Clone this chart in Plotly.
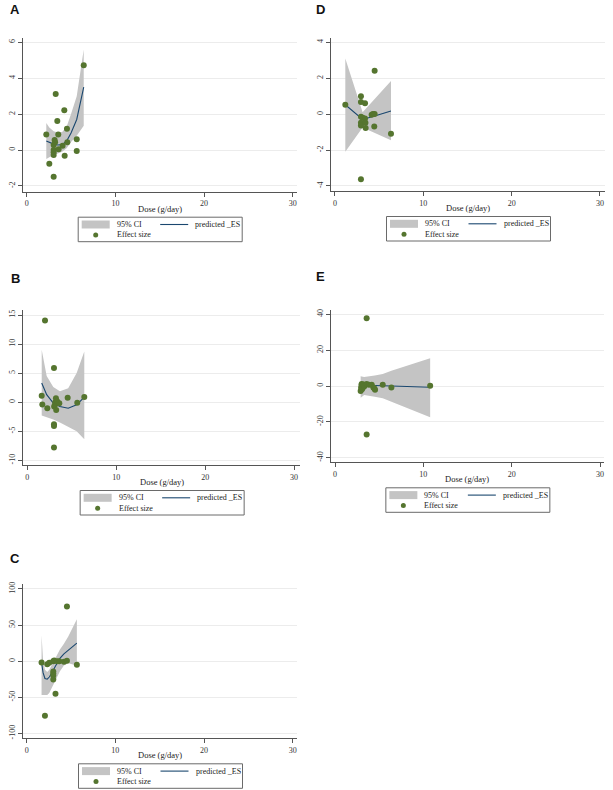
import plotly.graph_objects as go

W, H = 613, 790

# ---------------- data ----------------
x_ticks = [0, 10, 20, 30]

# Panel A
a_dose = [2.21, 2.55, 3.04, 3.04, 3.04, 3.04, 3.04, 3.15, 3.2, 3.27, 3.45, 3.56, 3.6, 4.05, 4.24, 4.28, 4.54, 4.58, 5.64, 5.64, 6.43]
a_es = [0.86, -0.77, -1.49, 0.28, 0.0, -0.13, -0.28, 0.56, 0.43, 3.12, 1.62, 0.86, 0.04, 0.24, 2.22, -0.32, 1.19, 0.43, 0.6, -0.06, 4.72]
a_fit_x = [2.21, 2.55, 3.04, 3.5, 4.0, 4.5, 5.0, 5.64, 6.43]
a_pred = [0.5, 0.42, 0.33, 0.28, 0.3, 0.5, 0.95, 1.7, 3.5]
a_upper = [1.5, 1.25, 1.05, 0.98, 1.0, 1.3, 2.0, 3.0, 5.6]
a_lower = [-0.5, -0.4, -0.28, -0.2, -0.1, 0.1, 0.45, 0.8, 1.35]
a_yticks = [-2, 0, 2, 4, 6]

# Panel B
b_dose = [1.62, 1.69, 1.99, 2.25, 3.0, 3.0, 3.0, 3.0, 3.02, 3.1, 3.15, 3.22, 3.25, 3.37, 3.6, 4.54, 5.62, 6.41]
b_es = [1.09, -0.41, 14.07, -1.04, 5.86, -3.8, -4.09, -7.82, -0.75, -0.47, 0.0, 0.68, -1.33, 0.1, -0.18, 0.74, -0.12, 0.91]
b_fit_x = [1.62, 2.18, 2.92, 3.67, 4.6, 5.55, 6.41]
b_pred = [3.3, 1.3, -0.15, -0.75, -1.05, -0.45, 0.85]
b_upper = [9.0, 4.5, 2.6, 1.9, 2.4, 5.0, 8.7]
b_lower = [-2.3, -2.6, -3.0, -3.5, -4.2, -5.0, -6.4]
b_yticks = [-10, -5, 0, 5, 10, 15]

# Panel C
c_dose = [1.68, 2.06, 2.32, 2.55, 3.0, 3.0, 3.0, 3.0, 3.0, 3.1, 3.25, 3.45, 3.67, 4.2, 4.54, 4.54, 5.66]
c_es = [-1.8, -75.8, -4.2, -2.3, 0.0, -14.3, -17.0, -20.0, -25.4, 1.0, -45.3, 0.0, 0.0, -0.9, 0.5, 75.8, -5.1]
c_fit_x = [1.68, 1.85, 2.06, 2.32, 2.55, 2.82, 3.19, 3.75, 4.2, 4.69, 5.66]
c_pred = [-2, -16, -24, -25, -22, -17, -8, 4, 10, 15, 25]
c_upper = [36, 2, -12, -15, -12, -6, 4, 16, 24, 34, 58]
c_lower = [-47, -47, -47, -47, -44, -38, -28, -14, -6, -3, -6]
c_yticks = [-100, -50, 0, 50, 100]

# Panel D
d_dose = [1.17, 2.94, 2.94, 3.4, 4.49, 2.94, 3.13, 3.4, 2.94, 2.94, 3.45, 3.47, 4.15, 4.3, 4.49, 4.45, 6.34, 2.94]
d_es = [0.52, 1.0, 0.67, 0.61, 2.42, -0.15, -0.2, -0.24, -0.48, -0.63, -0.48, -0.78, -0.04, 0.0, 0.0, -0.69, -1.1, -3.63]
d_fit_x = [1.17, 3.13, 4.49, 6.34]
d_pred = [0.52, -0.3, -0.1, 0.17]
d_upper = [3.1, 0.1, 0.84, 1.85]
d_lower = [-2.1, -0.75, -1.05, -1.45]
d_yticks = [-4, -2, 0, 2, 4]

# Panel E
e_dose = [2.9, 2.95, 3.0, 3.02, 3.05, 3.1, 3.13, 3.2, 3.32, 3.58, 3.58, 3.58, 3.84, 4.15, 4.34, 4.45, 4.53, 5.4, 6.38, 10.77]
e_es = [-2.8, -1.0, 0.5, 1.1, -1.8, 0.3, -1.1, 0.8, -0.2, 1.1, 37.8, -27.0, 0.7, 0.7, -0.8, -1.4, -2.1, 0.7, -0.8, 0.2]
e_fit_x = [2.9, 3.3, 4.5, 5.4, 6.38, 10.77]
e_pred = [0.5, 0.5, 0.3, 0.1, 0.0, -0.7]
e_upper = [5.5, 5.0, 5.8, 6.7, 8.5, 15.5]
e_lower = [-6.5, -5.0, -6.0, -6.9, -8.8, -17.5]
e_yticks = [-40, -20, 0, 20, 40]

panel_labels = ["A", "B", "C", "D", "E"]
x_title = "Dose (g/day)"
legend_labels = ["95% CI", "predicted _ES", "Effect size"]

# ---------------- styling / layout ----------------
GREEN = "#55752f"
NAVY = "#1a476f"
BAND = "#c4c4c4"
AXIS = "#555555"
GRID = "#ececec"
SERIF = "Liberation Serif"
SANS = "Liberation Sans"

panels = [
    dict(lab="A", dose=a_dose, es=a_es, fx=a_fit_x, pred=a_pred, hi=a_upper, lo=a_lower, yt=a_yticks,
         xr=[-0.45, 30.44], yr=[-2.32, 6.22], px=(22.7, 296.7), py=(38.3, 191.7), lp=(14.5, 9.5)),
    dict(lab="B", dose=b_dose, es=b_es, fx=b_fit_x, pred=b_pred, hi=b_upper, lo=b_lower, yt=b_yticks,
         xr=[-0.45, 30.67], yr=[-10.81, 15.86], px=(23.3, 300.0), py=(310.0, 465.0), lp=(15.0, 278.5)),
    dict(lab="C", dose=c_dose, es=c_es, fx=c_fit_x, pred=c_pred, hi=c_upper, lo=c_lower, yt=c_yticks,
         xr=[-0.38, 30.45], yr=[-106.9, 106.5], px=(23.3, 296.7), py=(584.3, 738.3), lp=(15.0, 558.0)),
    dict(lab="D", dose=d_dose, es=d_es, fx=d_fit_x, pred=d_pred, hi=d_upper, lo=d_lower, yt=d_yticks,
         xr=[-0.45, 30.57], yr=[-4.28, 4.22], px=(331.0, 605.0), py=(38.3, 191.0), lp=(320.0, 9.5)),
    dict(lab="E", dose=e_dose, es=e_es, fx=e_fit_x, pred=e_pred, hi=e_upper, lo=e_lower, yt=e_yticks,
         xr=[-0.49, 30.45], yr=[-42.57, 42.4], px=(330.7, 604.0), py=(310.0, 462.3), lp=(320.5, 276.5)),
]


def fx_(p):
    return p / W


def fy_(p):
    return 1 - p / H


fig = go.Figure()
shapes = []
annots = []
layout_axes = {}

for i, P in enumerate(panels):
    n = "" if i == 0 else str(i + 1)
    xa, ya = "x" + n, "y" + n
    # CI band
    fig.add_trace(go.Scatter(
        x=list(P["fx"]) + list(P["fx"])[::-1],
        y=list(P["hi"]) + list(P["lo"])[::-1],
        fill="toself", fillcolor=BAND, line=dict(width=0), mode="lines",
        xaxis=xa, yaxis=ya, showlegend=False, hoverinfo="skip"))
    # predicted line
    fig.add_trace(go.Scatter(
        x=P["fx"], y=P["pred"], mode="lines", line=dict(color=NAVY, width=1.1),
        xaxis=xa, yaxis=ya, showlegend=False))
    # effect sizes
    fig.add_trace(go.Scatter(
        x=P["dose"], y=P["es"], mode="markers",
        marker=dict(color=GREEN, size=6, line=dict(width=0)),
        xaxis=xa, yaxis=ya, showlegend=False))

    layout_axes["xaxis" + n] = dict(
        domain=[fx_(P["px"][0]), fx_(P["px"][1])], anchor=ya, range=P["xr"],
        tickvals=x_ticks, ticktext=[str(v) for v in x_ticks], ticks="outside", ticklen=4,
        tickcolor=AXIS, tickwidth=1, showline=True, linecolor=AXIS, linewidth=1,
        showgrid=False, zeroline=False, automargin=False,
        tickfont=dict(family=SERIF, size=8, color="#333333"))
    layout_axes["yaxis" + n] = dict(
        domain=[fy_(P["py"][1]), fy_(P["py"][0])], anchor=xa, range=P["yr"],
        tickvals=P["yt"], ticktext=[str(v) for v in P["yt"]], tickangle=-90,
        ticks="outside", ticklen=4, tickcolor=AXIS, tickwidth=1,
        showline=True, linecolor=AXIS, linewidth=1,
        showgrid=True, gridcolor=GRID, gridwidth=1, zeroline=False, automargin=False,
        tickfont=dict(family=SERIF, size=8, color="#333333"))

    cx = (P["px"][0] + P["px"][1]) / 2
    by = P["py"][1]
    # x title
    annots.append(dict(x=fx_(cx), y=fy_(by + 17), xref="paper", yref="paper", text=x_title,
                       showarrow=False, xanchor="center", yanchor="middle",
                       font=dict(family=SERIF, size=8.5, color="#222222")))
    # panel label
    annots.append(dict(x=fx_(P["lp"][0]), y=fy_(P["lp"][1]), xref="paper", yref="paper",
                       text="<b>%s</b>" % P["lab"], showarrow=False, xanchor="center", yanchor="middle",
                       font=dict(family=SANS, size=13, color="#111111")))
    # legend box
    shapes.append(dict(type="rect", xref="paper", yref="paper",
                       x0=fx_(cx - 81.5), x1=fx_(cx + 82.5), y0=fy_(by + 50), y1=fy_(by + 25.5),
                       line=dict(color="#6a6a6a", width=1), fillcolor="white", layer="below"))
    r1 = by + 32.8
    r2 = by + 43.2
    shapes.append(dict(type="rect", xref="paper", yref="paper",
                       x0=fx_(cx - 78), x1=fx_(cx - 50), y0=fy_(r1 + 4), y1=fy_(r1 - 4),
                       line=dict(width=0), fillcolor=BAND))
    shapes.append(dict(type="line", xref="paper", yref="paper",
                       x0=fx_(cx + 0.5), x1=fx_(cx + 28.5), y0=fy_(r1), y1=fy_(r1),
                       line=dict(color=NAVY, width=1.1)))
    shapes.append(dict(type="circle", xref="paper", yref="paper",
                       x0=fx_(cx - 66.5), x1=fx_(cx - 61.5), y0=fy_(r2 + 2.5), y1=fy_(r2 - 2.5),
                       line=dict(width=0), fillcolor=GREEN))
    for txt, tx, ty in [(legend_labels[0], cx - 45, r1), (legend_labels[1], cx + 33.5, r1),
                        (legend_labels[2], cx - 45, r2)]:
        annots.append(dict(x=fx_(tx), y=fy_(ty), xref="paper", yref="paper", text=txt,
                           showarrow=False, xanchor="left", yanchor="middle",
                           font=dict(family=SERIF, size=8, color="#222222")))

fig.update_layout(
    width=W, height=H, margin=dict(l=0, r=0, t=0, b=0),
    paper_bgcolor="white", plot_bgcolor="white", showlegend=False,
    shapes=shapes, annotations=annots, **layout_axes)

fig.write_html("out.html", config={"displayModeBar": False},
               post_script="document.body.style.margin='0';")
